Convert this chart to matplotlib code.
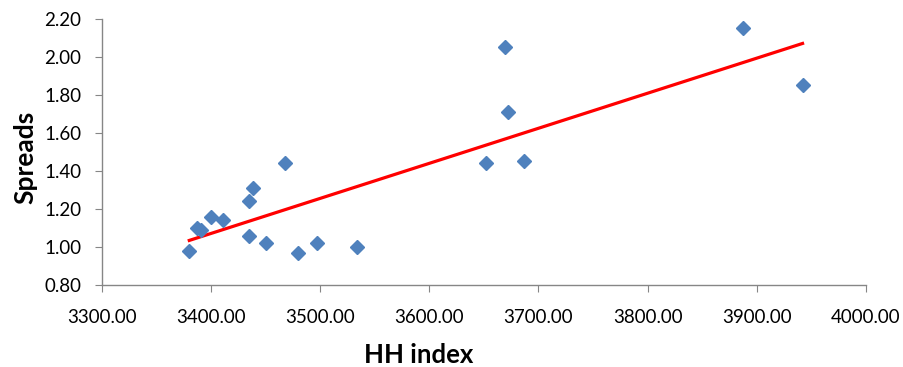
import numpy as np
import matplotlib
matplotlib.use("Agg")
import matplotlib.pyplot as plt

hh_index = [3380, 3387, 3391, 3400, 3411, 3435, 3438, 3435, 3450, 3468,
            3480, 3497, 3534, 3652, 3669, 3672, 3687, 3887, 3942]
spreads = [0.98, 1.10, 1.09, 1.16, 1.14, 1.24, 1.31, 1.06, 1.02, 1.44,
           0.97, 1.02, 1.00, 1.44, 2.05, 1.71, 1.45, 2.15, 1.85]

x_ticks = [3300, 3400, 3500, 3600, 3700, 3800, 3900, 4000]
y_ticks = [0.80, 1.00, 1.20, 1.40, 1.60, 1.80, 2.00, 2.20]

plt.rcParams['font.family'] = ['Lato', 'DejaVu Sans']

fig = plt.figure(figsize=(9.04, 3.67), dpi=100)
ax = fig.add_axes([0.1128, 0.2234, 0.845, 0.725])

x = np.array(hh_index, dtype=float)
y = np.array(spreads, dtype=float)
slope, intercept = np.polyfit(x, y, 1)
xl = np.array([x.min(), x.max()])
ax.plot(xl, slope * xl + intercept, color='#FF0000', lw=2.3, zorder=2)
ax.plot(x, y, linestyle='none', marker='D', ms=7.6, color='#4F81BD',
        markeredgecolor='#4F81BD', zorder=3)

ax.set_xlim(3300, 4000)
ax.set_ylim(0.80, 2.20)
ax.set_xticks(x_ticks)
ax.set_yticks(y_ticks)
ax.set_xticklabels([f"{v:.2f}" for v in x_ticks])
ax.set_yticklabels([f"{v:.2f}" for v in y_ticks])
for s in ['top', 'right']:
    ax.spines[s].set_visible(False)
for s in ['left', 'bottom']:
    ax.spines[s].set_color('#868686')
    ax.spines[s].set_linewidth(1)
ax.tick_params(axis='both', direction='out', length=5, color='#868686',
               labelsize=13.5, labelcolor='black')
ax.tick_params(axis='x', pad=12)
ax.tick_params(axis='y', pad=10)

fig.text(419 / 904, 1 - 363 / 367, 'HH index', fontsize=18.5, fontweight='bold',
         ha='center', va='baseline')
fig.text(25 / 904, 1 - 157 / 367, 'Spreads', fontsize=19, fontweight='bold',
         ha='center', va='center', rotation=90)

fig.savefig('out.png', dpi=100)
